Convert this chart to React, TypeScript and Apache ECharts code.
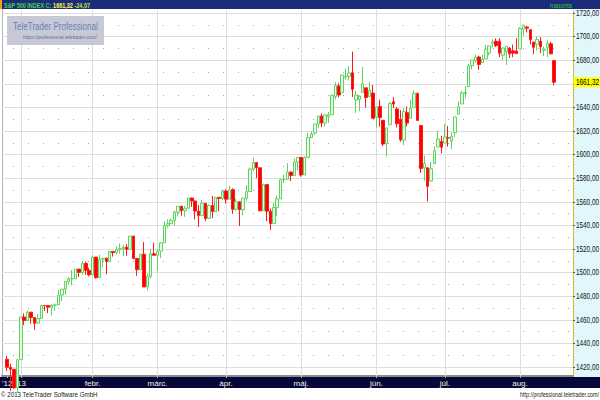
import React, { useEffect, useRef } from 'react';
import * as echarts from 'echarts';

// Trading days shown (day numbers per month)
const daysDec12 = [26, 27, 28, 31];
const daysJan13 = [2, 3, 4, 7, 8, 9, 10, 11, 14, 15, 16, 17, 18, 22, 23, 24, 25, 28, 29, 30, 31];
const daysFeb13 = [1, 4, 5, 6, 7, 8, 11, 12, 13, 14, 15, 19, 20, 21, 22, 25, 26, 27, 28];
const daysMar13 = [1, 4, 5, 6, 7, 8, 11, 12, 13, 14, 15, 18, 19, 20, 21, 22, 25, 26, 27, 28];
const daysApr13 = [1, 2, 3, 4, 5, 8, 9, 10, 11, 12, 15, 16, 17, 18, 19, 22, 23, 24, 25, 26, 29, 30];
const daysMay13 = [1, 2, 3, 6, 7, 8, 9, 10, 13, 14, 15, 16, 17, 20, 21, 22, 23, 24, 28, 29, 30, 31];
const daysJun13 = [3, 4, 5, 6, 7, 10, 11, 12, 13, 14, 17, 18, 19, 20, 21, 24, 25, 26, 27, 28];
const daysJul13 = [1, 2, 3, 5, 8, 9, 10, 11, 12, 15, 16, 17, 18, 19, 22, 23, 24, 25, 26, 29, 30, 31];
const daysAug13 = [1, 2, 5, 6, 7, 8, 9, 12, 13, 14, 15];

// [open, high, low, close]
const ohlcDec12 = [
  [1426.66, 1429.42, 1416.43, 1419.83], [1419.83, 1422.8, 1399.6, 1418.1], [1418.1, 1418.1, 1401.58, 1402.43],
  [1402.43, 1426.74, 1398.11, 1426.19],
];
const ohlcJan13 = [
  [1426.19, 1462.43, 1426.19, 1462.42], [1462.42, 1465.47, 1455.53, 1459.37], [1459.37, 1467.94, 1458.99, 1466.47],
  [1466.47, 1466.47, 1456.62, 1461.89], [1461.89, 1461.89, 1451.64, 1457.15], [1457.15, 1464.73, 1457.15, 1461.02],
  [1461.02, 1472.3, 1461.02, 1472.12], [1472.12, 1472.75, 1467.58, 1472.05], [1472.05, 1472.05, 1465.69, 1470.68],
  [1470.67, 1473.31, 1463.76, 1472.34], [1472.33, 1473.96, 1467.6, 1472.63], [1472.63, 1485.16, 1472.63, 1480.94],
  [1480.95, 1485.98, 1475.81, 1485.98], [1485.98, 1492.56, 1481.16, 1492.56], [1492.56, 1496.13, 1489.9, 1494.81],
  [1494.81, 1502.27, 1489.46, 1494.82], [1494.82, 1503.26, 1494.82, 1502.96], [1502.96, 1503.23, 1496.33, 1500.18],
  [1500.18, 1509.94, 1498.11, 1507.84], [1507.84, 1509.35, 1498.09, 1501.96], [1501.96, 1504.19, 1496.76, 1498.11],
];
const ohlcFeb13 = [
  [1498.11, 1514.41, 1498.11, 1513.17], [1513.17, 1513.17, 1495.02, 1495.71], [1495.71, 1514.96, 1495.71, 1511.29],
  [1511.29, 1512.53, 1504.71, 1512.12], [1512.12, 1512.9, 1498.49, 1509.39], [1509.39, 1518.31, 1509.39, 1517.93],
  [1517.93, 1518.31, 1513.61, 1517.01], [1517.01, 1522.29, 1515.61, 1519.43], [1519.43, 1524.69, 1515.93, 1520.33],
  [1520.33, 1523.14, 1514.02, 1521.38], [1521.38, 1524.24, 1514.14, 1519.79], [1519.79, 1530.94, 1519.79, 1530.94],
  [1530.94, 1530.94, 1511.41, 1511.95], [1511.95, 1511.95, 1497.29, 1502.42], [1502.42, 1515.64, 1502.42, 1515.6],
  [1515.6, 1525.84, 1487.85, 1487.85], [1487.85, 1498.99, 1485.01, 1496.94], [1496.94, 1520.08, 1494.88, 1515.99],
  [1515.99, 1525.34, 1514.46, 1514.68],
];
const ohlcMar13 = [
  [1514.68, 1519.99, 1501.48, 1518.2], [1518.2, 1525.27, 1512.29, 1525.2], [1525.2, 1543.47, 1525.2, 1539.79],
  [1539.79, 1545.25, 1538.11, 1541.46], [1541.46, 1545.78, 1541.46, 1544.26], [1544.26, 1552.48, 1539.63, 1551.18],
  [1551.15, 1556.27, 1547.36, 1556.22], [1556.22, 1556.77, 1548.24, 1552.48], [1552.48, 1556.39, 1547.25, 1554.52],
  [1554.52, 1563.32, 1554.52, 1563.23], [1563.21, 1563.62, 1555.74, 1560.7], [1560.7, 1560.7, 1545.13, 1552.1],
  [1552.1, 1557.25, 1538.57, 1548.34], [1548.34, 1561.56, 1548.34, 1558.71], [1558.71, 1558.71, 1543.55, 1545.8],
  [1545.9, 1557.74, 1545.9, 1556.89], [1556.89, 1564.91, 1546.22, 1551.69], [1551.69, 1563.95, 1551.69, 1563.77],
  [1563.75, 1564.07, 1551.9, 1562.85], [1562.86, 1570.28, 1561.08, 1569.19],
];
const ohlcApr13 = [
  [1569.18, 1570.57, 1558.47, 1562.17], [1562.17, 1573.66, 1562.17, 1570.25], [1570.25, 1571.47, 1549.8, 1553.69],
  [1553.69, 1562.6, 1552.52, 1559.98], [1559.98, 1559.98, 1539.5, 1553.28], [1553.26, 1563.07, 1548.63, 1563.07],
  [1563.11, 1573.89, 1560.92, 1568.61], [1568.61, 1589.07, 1568.61, 1587.73], [1587.73, 1597.35, 1586.17, 1593.37],
  [1593.3, 1593.3, 1579.97, 1588.85], [1588.84, 1588.84, 1552.28, 1552.36], [1552.36, 1575.35, 1552.36, 1574.57],
  [1574.57, 1574.57, 1543.69, 1552.01], [1552.03, 1554.38, 1536.03, 1541.61], [1541.61, 1558.65, 1541.61, 1555.25],
  [1555.25, 1565.55, 1548.19, 1562.5], [1562.5, 1579.58, 1562.5, 1578.78], [1578.78, 1583.0, 1575.8, 1578.79],
  [1578.93, 1592.64, 1578.93, 1585.16], [1585.16, 1585.78, 1577.56, 1582.24], [1582.34, 1596.65, 1582.34, 1593.61],
  [1593.58, 1597.57, 1586.5, 1597.57],
];
const ohlcMay13 = [
  [1597.55, 1597.55, 1581.28, 1582.7], [1582.77, 1598.6, 1582.77, 1597.59], [1597.6, 1618.46, 1597.6, 1614.42],
  [1614.4, 1619.77, 1614.21, 1617.5], [1618.36, 1626.03, 1616.64, 1625.96], [1625.95, 1632.78, 1622.7, 1632.69],
  [1632.69, 1635.01, 1623.09, 1626.67], [1626.69, 1633.7, 1623.71, 1633.7], [1632.1, 1636.0, 1626.74, 1633.77],
  [1633.75, 1651.1, 1633.75, 1650.34], [1649.13, 1661.49, 1646.68, 1658.78], [1658.07, 1660.51, 1648.6, 1650.47],
  [1652.45, 1667.47, 1652.45, 1667.47], [1665.71, 1672.84, 1663.52, 1666.29], [1666.2, 1674.93, 1662.67, 1669.16],
  [1669.39, 1687.18, 1648.86, 1655.35], [1646.22, 1654.19, 1635.53, 1650.51], [1646.67, 1649.78, 1636.88, 1649.6],
  [1652.63, 1674.21, 1652.63, 1660.06], [1656.57, 1656.57, 1640.05, 1648.36], [1649.14, 1661.91, 1648.61, 1654.41],
  [1652.13, 1658.99, 1630.74, 1630.74],
];
const ohlcJun13 = [
  [1631.71, 1640.42, 1622.72, 1640.42], [1640.73, 1646.53, 1623.62, 1631.38], [1629.05, 1629.31, 1607.09, 1608.9],
  [1609.29, 1622.56, 1598.23, 1622.56], [1625.27, 1644.4, 1625.27, 1643.38], [1644.67, 1648.69, 1639.26, 1642.81],
  [1638.64, 1640.13, 1622.92, 1626.13], [1629.94, 1637.71, 1610.92, 1612.52], [1612.15, 1639.25, 1608.07, 1636.36],
  [1635.52, 1640.8, 1623.96, 1626.73], [1630.64, 1646.5, 1630.34, 1639.04], [1639.77, 1654.19, 1639.77, 1651.81],
  [1651.83, 1652.45, 1628.91, 1628.93], [1624.62, 1624.62, 1584.32, 1588.19], [1588.62, 1599.19, 1577.7, 1592.43],
  [1588.77, 1588.77, 1560.33, 1573.09], [1577.52, 1593.79, 1577.09, 1588.03], [1592.27, 1606.83, 1592.27, 1603.26],
  [1606.44, 1620.07, 1606.44, 1613.2], [1611.12, 1615.94, 1601.06, 1606.28],
];
const ohlcJul13 = [
  [1609.78, 1626.07, 1609.78, 1614.96], [1614.29, 1624.26, 1606.77, 1614.08], [1611.48, 1618.97, 1604.57, 1615.41],
  [1618.65, 1632.07, 1614.71, 1631.89], [1634.2, 1644.68, 1634.2, 1640.46], [1642.89, 1654.18, 1642.89, 1652.32],
  [1651.56, 1657.92, 1647.66, 1652.62], [1657.41, 1676.63, 1657.41, 1675.02], [1675.26, 1680.19, 1672.33, 1680.19],
  [1679.59, 1684.51, 1677.89, 1682.5], [1682.7, 1683.73, 1671.84, 1676.26], [1677.91, 1684.75, 1677.91, 1680.91],
  [1681.05, 1693.12, 1681.05, 1689.37], [1686.15, 1692.09, 1684.08, 1692.09], [1694.41, 1697.61, 1690.67, 1695.53],
  [1696.06, 1698.38, 1691.13, 1692.39], [1696.06, 1698.38, 1682.57, 1685.94], [1684.22, 1690.94, 1680.07, 1690.25],
  [1687.31, 1691.85, 1676.03, 1691.65], [1690.32, 1690.92, 1681.86, 1685.33], [1687.92, 1693.19, 1682.42, 1685.96],
  [1687.76, 1698.43, 1684.94, 1685.73],
];
const ohlcAug13 = [
  [1689.42, 1707.85, 1689.42, 1706.87], [1706.1, 1709.67, 1700.68, 1709.67], [1708.01, 1709.24, 1703.55, 1707.14],
  [1705.79, 1705.79, 1693.29, 1697.37], [1695.3, 1695.3, 1684.91, 1690.91], [1693.35, 1700.18, 1688.38, 1697.48],
  [1696.1, 1699.42, 1686.02, 1691.42], [1688.37, 1691.49, 1683.35, 1689.47], [1690.65, 1696.81, 1682.62, 1694.16],
  [1693.88, 1695.52, 1684.83, 1685.39], [1679.61, 1679.61, 1658.59, 1661.32],
];

const monthLabels = ["'12", "'13", 'febr.', 'márc.', 'ápr.', 'máj.', 'jún.', 'júl.', 'aug.'];
const yGridValues = [1420, 1440, 1460, 1480, 1500, 1520, 1540, 1560, 1580, 1600, 1620, 1640, 1660, 1680, 1700, 1720];
const yLabelValues = [1420, 1440, 1460, 1480, 1500, 1520, 1540, 1560, 1580, 1600, 1620, 1640, 1680, 1700, 1720];
const yMidValues = [1430, 1450, 1470, 1490, 1510, 1530, 1550, 1570, 1590, 1610, 1630, 1650, 1670, 1690, 1710];
const lastClose = 1661.32;
const lastChange = -24.07;

const fmt = (v: number) => v.toFixed(2).replace('.', ',');

function measure(text: string, font: string): number {
  const ctx = document.createElement('canvas').getContext('2d');
  if (!ctx) return text.length * 5;
  ctx.font = font;
  return ctx.measureText(text).width;
}

export default function App() {
  const ref = useRef<HTMLDivElement>(null);

  useEffect(() => {
    if (!ref.current) return;
    const chart = echarts.init(ref.current, undefined, { renderer: 'svg' });

    const monthsTable = [
      { y: 2012, m: 12, days: daysDec12, ohlc: ohlcDec12 },
      { y: 2013, m: 1, days: daysJan13, ohlc: ohlcJan13 },
      { y: 2013, m: 2, days: daysFeb13, ohlc: ohlcFeb13 },
      { y: 2013, m: 3, days: daysMar13, ohlc: ohlcMar13 },
      { y: 2013, m: 4, days: daysApr13, ohlc: ohlcApr13 },
      { y: 2013, m: 5, days: daysMay13, ohlc: ohlcMay13 },
      { y: 2013, m: 6, days: daysJun13, ohlc: ohlcJun13 },
      { y: 2013, m: 7, days: daysJul13, ohlc: ohlcJul13 },
      { y: 2013, m: 8, days: daysAug13, ohlc: ohlcAug13 },
    ];
    const p2 = (n: number) => (n < 10 ? '0' + n : '' + n);
    const categories: string[] = ['pad-start'];
    const candles: any[] = [['-', '-', '-', '-']];
    const labelMap: Record<string, string> = {};
    const monthStarts: string[] = [];
    monthsTable.forEach((mt, mi) => {
      mt.days.forEach((d, di) => {
        const key = `${mt.y}-${p2(mt.m)}-${p2(d)}`;
        categories.push(key);
        const [o, h, l, c] = mt.ohlc[di];
        candles.push([o, c, l, h]);
        if (di === 0) {
          labelMap[key] = monthLabels[mi];
          if (mi > 0) monthStarts.push(key);
        }
      });
    });
    for (let i = 0; i < 5; i++) categories.push('pad-end-' + i);

    const isLabel = (_i: number, v: string) => labelMap[v] !== undefined;

    const gridLines: any[] = [
      ...yGridValues.map((v) => ({ yAxis: v, lineStyle: { color: '#dedede', width: 1, type: 'solid' } })),
      ...yMidValues.map((v) => ({ yAxis: v, lineStyle: { color: '#a8a8a8', width: 1, type: [1, 14], dashOffset: 4 } })),
      ...monthStarts.map((d) => ({ xAxis: d, lineStyle: { color: '#dedede', width: 1, type: 'solid' } })),
    ];

    const F = 'Liberation Sans';
    const headFont = `bold 8px "${F}"`;
    const headText = `S&P 500 INDEX C: ${fmt(lastClose)} ${fmt(lastChange)}`;
    const headScale = 86 / measure(headText, headFont);
    const logoFont = `11.5px "${F}"`;
    const logoScale = 85 / measure('TeleTrader Professional', logoFont);
    const urlFont = `6px "${F}"`;
    const urlScale = 74 / measure('https://professional.teletrader.com/', urlFont);
    const copyFont = `7.5px "${F}"`;
    const copyScale = 97 / measure('© 2013 TeleTrader Software GmbH', copyFont);
    const siteFont = `7px "${F}"`;
    const siteScale = 79 / measure('http://professional.teletrader.com/', siteFont);
    const napFont = `7.5px "${F}"`;
    const napScale = 22 / measure('naponta', napFont);
    const yFont = `9px "${F}"`;
    const yScale = 23 / measure('1720,00', yFont);

    const baseGraphics: any[] = [
      { id: 'hdr', type: 'rect', silent: true, z: -10, shape: { x: 0, y: 0, width: 600, height: 9 }, style: { fill: '#1c2c78' } },
      { id: 'hdrmark', type: 'rect', silent: true, z: -9, shape: { x: 0, y: 0, width: 2, height: 9 }, style: { fill: '#f0a020' } },
      { id: 'panel', type: 'rect', silent: true, z: -10, shape: { x: 573, y: 9, width: 27, height: 368 }, style: { fill: '#e1f7fc' } },
      { id: 'bar', type: 'rect', silent: true, z: -10, shape: { x: 0, y: 377, width: 600, height: 11 }, style: { fill: '#07073a' } },
      { id: 'lborder', type: 'line', silent: true, z: -9, shape: { x1: 2.5, y1: 9, x2: 2.5, y2: 376 }, style: { stroke: '#b4b4b4', lineWidth: 1 } },
      {
        id: 'head', type: 'text', silent: true, z: 10, x: 4, y: 5, scaleX: headScale,
        style: {
          text: `{a|S&P 500 INDEX C:} {b|${fmt(lastClose)}} {c|${fmt(lastChange)}}`,
          font: headFont, verticalAlign: 'middle',
          rich: {
            a: { fill: '#3fd83f', font: headFont },
            b: { fill: '#ffff40', font: headFont },
            c: { fill: '#b8e840', font: headFont },
          },
        },
      },
      {
        id: 'nap', type: 'text', silent: true, z: 10, x: 572, y: 5, scaleX: napScale,
        style: { text: 'naponta', font: napFont, fill: '#30c830', align: 'right', verticalAlign: 'middle' },
      },
      { id: 'logobox', type: 'rect', silent: true, z: 20, shape: { x: 7, y: 16, width: 97, height: 29 }, style: { fill: '#c7cad6' } },
      {
        id: 'logotext', type: 'text', silent: true, z: 21, x: 13, y: 26, scaleX: logoScale,
        style: { text: 'TeleTrader Professional', font: logoFont, fill: '#6b7fb2', verticalAlign: 'middle' },
      },
      {
        id: 'logourl', type: 'text', silent: true, z: 21, x: 23, y: 37, scaleX: urlScale,
        style: { text: 'https://professional.teletrader.com/', font: urlFont, fill: '#5a6fa8', verticalAlign: 'middle' },
      },
      {
        id: 'copy', type: 'text', silent: true, z: 10, x: 1, y: 394, scaleX: copyScale,
        style: { text: '© 2013 TeleTrader Software GmbH', font: copyFont, fill: '#222222', verticalAlign: 'middle' },
      },
      {
        id: 'site', type: 'text', silent: true, z: 10, x: 599, y: 394, scaleX: siteScale,
        style: { text: 'http://professional.teletrader.com/', font: siteFont, fill: '#222222', align: 'right', verticalAlign: 'middle' },
      },
    ];

    chart.setOption({
      animation: false,
      backgroundColor: '#ffffff',
      grid: { left: 2, right: 27, top: 10, bottom: 24, containLabel: false, outerBoundsMode: 'none' },
      xAxis: {
        type: 'category',
        data: categories,
        boundaryGap: true,
        axisLine: { show: true, lineStyle: { color: '#8c8c8c', width: 2 } },
        axisTick: { show: true, alignWithLabel: true, interval: isLabel, length: 2, lineStyle: { color: '#c8b070' } },
        axisLabel: {
          interval: isLabel,
          formatter: (v: string) => labelMap[v] ?? '',
          color: '#f2f2e4',
          fontSize: 8,
          fontFamily: F,
          margin: 3,
        },
        splitLine: { show: false },
      },
      yAxis: {
        type: 'value',
        position: 'right',
        min: 1412.4,
        max: 1722.5,
        splitLine: { show: false },
        axisLine: { show: true, lineStyle: { color: '#d4b000', type: 'dotted', width: 1 } },
        axisTick: { show: true, customValues: yGridValues, length: 2, lineStyle: { color: '#555555' } },
        axisLabel: { show: false },
      },
      graphic: { elements: baseGraphics },
      series: [
        {
          type: 'line',
          data: [],
          z: 1,
          silent: true,
          markLine: {
            silent: true,
            symbol: ['none', 'none'],
            label: { show: false },
            animation: false,
            data: gridLines,
          },
        },
        {
          type: 'candlestick',
          z: 5,
          data: candles,
          barWidth: 3,
          clip: true,
          itemStyle: {
            color: '#e8fbe8',
            color0: '#ff0000',
            borderColor: '#5fd35f',
            borderColor0: '#ff1a1a',
            borderWidth: 1,
          },
        },
      ],
    });

    // Right-axis value labels, placed through the value axis scale
    const yLabelGraphics: any[] = yLabelValues.map((v, i) => {
      const py = chart.convertToPixel({ yAxisIndex: 0 }, v) as number;
      return {
        id: 'ylab' + i, type: 'text', silent: true, z: 10, x: 576, y: py, scaleX: yScale,
        style: { text: fmt(v), font: yFont, fill: '#111111', verticalAlign: 'middle' },
      };
    });
    const lastY = chart.convertToPixel({ yAxisIndex: 0 }, lastClose) as number;
    const lastGraphics: any[] = [
      { id: 'lastbox', type: 'rect', silent: true, z: 11, shape: { x: 573.5, y: lastY - 5, width: 26.5, height: 10 }, style: { fill: '#ffff00' } },
      {
        id: 'lasttext', type: 'text', silent: true, z: 12, x: 576, y: lastY, scaleX: yScale,
        style: { text: fmt(lastClose), font: yFont, fill: '#000000', verticalAlign: 'middle' },
      },
    ];
    chart.setOption({ graphic: { elements: [...baseGraphics, ...yLabelGraphics, ...lastGraphics] } });

    return () => chart.dispose();
  }, []);

  return (
    <div
      ref={ref}
      style={{ position: 'fixed', left: 0, top: 0, width: 600, height: 400, background: '#ffffff' }}
    />
  );
}
